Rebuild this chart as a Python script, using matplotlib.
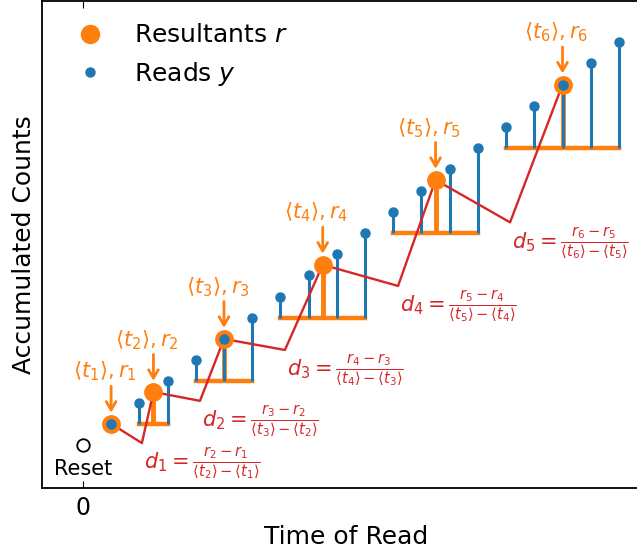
import matplotlib
matplotlib.use("Agg")
import matplotlib.pyplot as plt
from matplotlib.lines import Line2D

# ---- data ----
read_times = [1, 2, 3, 4, 5, 6, 7, 8, 9, 10, 11, 12, 13, 14, 15, 16, 17, 18, 19]
read_counts = [1, 2, 3, 4, 5, 6, 7, 8, 9, 10, 11, 12, 13, 14, 15, 16, 17, 18, 19]
group_sizes = [1, 2, 3, 4, 4, 5]
resultant_times = [1, 2.5, 5, 8.5, 12.5, 17]
resultant_counts = [1, 2.5, 5, 8.5, 12.5, 17]
# corner points of the red connector (between resultants)
dip_times = [2.09, 4.15, 7.16, 11.17, 15.14]
dip_counts = [0.09, 2.08, 4.48, 7.5, 10.5]
reset_time = 0
reset_count = 0

ORANGE = "#ff7f0e"
BLUE = "#1f77b4"
RED = "#d62728"

fig = plt.figure(figsize=(6.37, 5.52), dpi=100)
ax = fig.add_axes([42 / 637, 1 - 488 / 552, (650 - 42) / 637, 487 / 552])

# groups
start = 0
prev_last = reset_count
for k, n in enumerate(group_sizes):
    ts = read_times[start:start + n]
    cs = read_counts[start:start + n]
    if k > 0:
        base = prev_last
        ax.hlines(base, ts[0], ts[-1], color=ORANGE, lw=3.2, zorder=2, capstyle="projecting")
        ax.vlines(resultant_times[k], base, resultant_counts[k], color=ORANGE, lw=3.5, zorder=2)
        ax.vlines(ts, base, cs, color=BLUE, lw=2.2, zorder=3)
    prev_last = cs[-1]
    start += n

# red connector
rx, ry = [], []
for k in range(len(resultant_times)):
    rx.append(resultant_times[k]); ry.append(resultant_counts[k])
    if k < len(dip_times):
        rx.append(dip_times[k]); ry.append(dip_counts[k])
ax.plot(rx, ry, color=RED, lw=1.7, zorder=3.5)

ax.plot(resultant_times, resultant_counts, "o", color=ORANGE, ms=12.5, zorder=4)
ax.plot(read_times, read_counts, "o", color=BLUE, ms=6.5, zorder=5)

# reset
ax.plot([reset_time], [reset_count], "o", mfc="white", mec="black", ms=9, mew=1.3, zorder=5)
ax.annotate("Reset", xy=(reset_time, reset_count), xytext=(0, -17), textcoords="offset points",
            ha="center", va="center", fontsize=15)

# resultant labels and arrows
for k in range(len(resultant_times)):
    t, r = resultant_times[k], resultant_counts[k]
    ax.annotate("", xy=(t, r), xytext=(0, 27), textcoords="offset points",
                arrowprops=dict(arrowstyle="->,head_width=0.35,head_length=0.6", color=ORANGE,
                                lw=2, shrinkA=0, shrinkB=8), zorder=6)
    ax.annotate(r"$\langle t_{%d} \rangle, r_{%d}$" % (k + 1, k + 1), xy=(t, r),
                xytext=(-4.5, 37.5), textcoords="offset points", ha="center", va="center",
                color=ORANGE, fontsize=15)

# d labels
for k in range(len(dip_times)):
    s = (r"$d_{%d} = \frac{r_{%d} - r_{%d}}{\langle t_{%d} \rangle - \langle t_{%d} \rangle}$"
         % (k + 1, k + 2, k + 1, k + 2, k + 1))
    ax.annotate(s, xy=(dip_times[k], dip_counts[k]), xytext=(1.5, -2), textcoords="offset points",
                ha="left", va="top", color=RED, fontsize=15)

ax.set_xlim(-1.45, 20.1)
ax.set_ylim(-2.03, 20.94)
ax.set_xticks([0])
ax.set_xticklabels(["0"])
ax.set_yticks([])
ax.tick_params(axis="x", direction="in", top=True, length=5, labelsize=17, pad=5.5)
for sp in ax.spines.values():
    sp.set_linewidth(1.3)
ax.set_xlabel("Time of Read", fontsize=18)
ax.set_ylabel("Accumulated Counts", fontsize=18)

handles = [Line2D([], [], marker="o", ls="none", color=ORANGE, ms=13),
           Line2D([], [], marker="o", ls="none", color=BLUE, ms=6.5)]
ax.legend(handles, [r"Resultants $r$", r"Reads $y$"], loc="upper left", frameon=False, fontsize=18)

fig.savefig("out.png", dpi=100)
